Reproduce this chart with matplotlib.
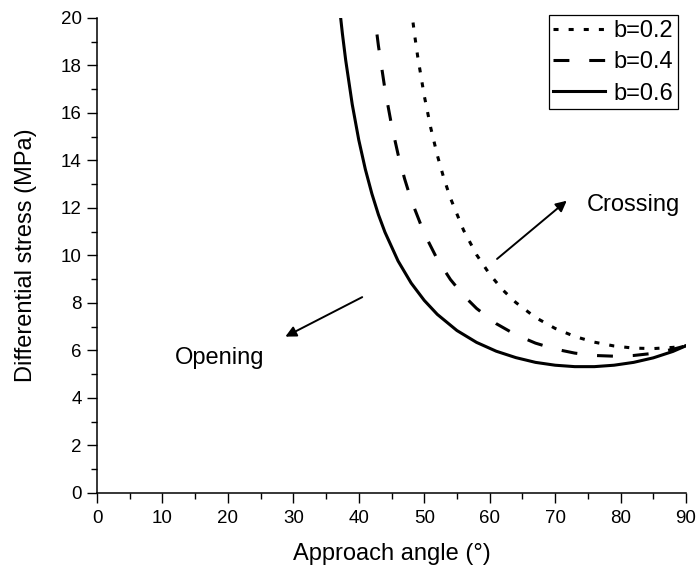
import matplotlib
matplotlib.use("Agg")
import matplotlib.pyplot as plt
from matplotlib.ticker import MultipleLocator

plt.rcParams['font.family'] = ['Liberation Sans', 'DejaVu Sans']

# Differential stress (MPa) versus approach angle (deg) for three values of b
angle_b06 = [37.0, 37.5, 38, 39, 40, 41, 42, 43, 44, 46, 48, 50, 52, 55, 58, 61,
             64, 67, 70, 73, 76, 79, 82, 85, 88, 90]
stress_b06 = [20.58, 19.33, 18.22, 16.36, 14.86, 13.63, 12.60, 11.72, 10.98, 9.77,
              8.84, 8.11, 7.52, 6.84, 6.34, 5.97, 5.70, 5.50, 5.38, 5.32, 5.32,
              5.38, 5.50, 5.69, 5.96, 6.20]

angle_b04 = [42.0, 42.5, 43, 44, 45, 46, 47, 48, 50, 52, 54, 56, 58, 61, 64, 67,
             70, 73, 76, 79, 82, 85, 88, 90]
stress_b04 = [21.14, 19.92, 18.83, 16.99, 15.50, 14.26, 13.23, 12.34, 10.93, 9.84,
              8.99, 8.32, 7.77, 7.13, 6.66, 6.31, 6.06, 5.89, 5.79, 5.76, 5.79,
              5.88, 6.05, 6.20]

angle_b02 = [48.0, 48.5, 49, 50, 51, 52, 53, 54, 56, 58, 60, 62, 64, 67, 70, 73,
             76, 79, 82, 85, 88, 90]
stress_b02 = [20.44, 19.35, 18.38, 16.73, 15.37, 14.22, 13.25, 12.42, 11.07, 10.03,
              9.21, 8.55, 8.02, 7.39, 6.93, 6.59, 6.35, 6.19, 6.10, 6.08, 6.13, 6.20]

labels = ['b=0.2', 'b=0.4', 'b=0.6']

fig = plt.figure(figsize=(6.99, 5.76), dpi=100)
ax = fig.add_axes([0.1388, 0.1441, 0.8426, 0.8247])

lw = 2.2
ax.plot(angle_b02, stress_b02, color='black', lw=lw, dashes=(1.65, 3.3),
        label=labels[0])
ax.plot(angle_b04, stress_b04, color='black', lw=lw, dashes=(5.2, 6.5),
        label=labels[1])
ax.plot(angle_b06, stress_b06, color='black', lw=lw, label=labels[2])

ax.set_xlim(0, 90)
ax.set_ylim(0, 20)
ax.xaxis.set_major_locator(MultipleLocator(10))
ax.xaxis.set_minor_locator(MultipleLocator(5))
ax.yaxis.set_major_locator(MultipleLocator(2))
ax.yaxis.set_minor_locator(MultipleLocator(1))

for side in ('top', 'right'):
    ax.spines[side].set_visible(False)
for side in ('left', 'bottom'):
    ax.spines[side].set_linewidth(1.1)

ax.tick_params(which='major', direction='out', length=7, width=1.0,
               labelsize=13.5)
ax.tick_params(axis='x', which='major', pad=5)
ax.tick_params(axis='y', which='major', pad=4)
ax.tick_params(which='minor', direction='out', length=4, width=1.0)

ax.set_xlabel('Approach angle (°)', fontsize=17, labelpad=12)
ax.set_ylabel('Differential stress (MPa)', fontsize=17, labelpad=17)

leg = ax.legend(loc='upper right', bbox_to_anchor=(0.9864, 1.006),
                fontsize=17, frameon=True, fancybox=False, framealpha=1,
                edgecolor='black', handlelength=2.2, handletextpad=0.35,
                labelspacing=0.4, borderpad=0.2, borderaxespad=0.0)
leg.get_frame().set_linewidth(0.9)

ax.annotate('', xy=(72.1, 12.38), xytext=(60.8, 9.78),
            arrowprops=dict(arrowstyle='-|>', color='black', lw=1.4,
                            mutation_scale=16))
ax.text(74.9, 12.13, 'Crossing', fontsize=17, va='center', ha='left')

ax.annotate('', xy=(28.4, 6.53), xytext=(40.9, 8.30),
            arrowprops=dict(arrowstyle='-|>', color='black', lw=1.4,
                            mutation_scale=16))
ax.text(11.9, 5.68, 'Opening', fontsize=17, va='center', ha='left')

fig.savefig('out.png', dpi=100)
